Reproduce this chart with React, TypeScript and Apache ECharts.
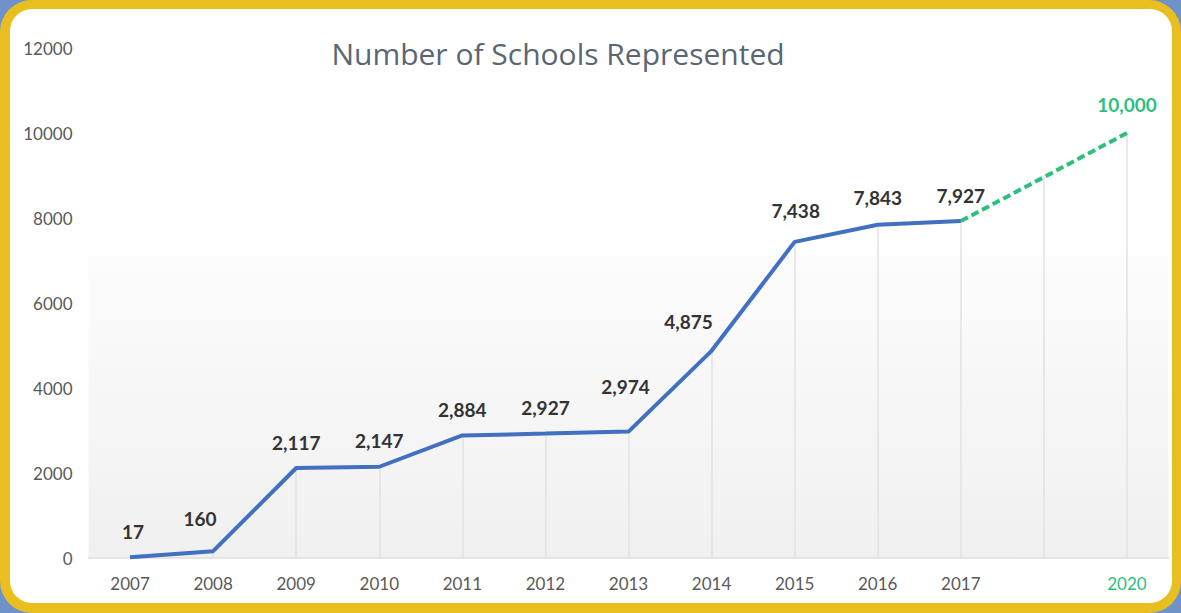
import React, { useEffect, useRef } from "react";
import * as echarts from "echarts";

const CATEGORIES = ["2007", "2008", "2009", "2010", "2011", "2012", "2013", "2014", "2015", "2016", "2017", "", "2020"];
const ACTUAL = [17, 160, 2117, 2147, 2884, 2927, 2974, 4875, 7438, 7843, 7927, null, null];
const PROJECTED = [null, null, null, null, null, null, null, null, null, null, 7927, 8960, 10000];
const Y_TICKS = [0, 2000, 4000, 6000, 8000, 10000, 12000];
const TITLE = "Number of Schools Represented";

const LABEL_OFFSETS: [number, number][] = [
  [3, 0], [-13, -7], [0, 0], [0, 0], [0, 0], [0, 0], [-3, -19], [-23, -3], [1, -5], [0, -1], [0, 0], [0, 0], [0, -3],
];

const BLUE = "#4170c0";
const GREEN = "#2dbf7c";
const GREY_TEXT = "#595959";
const FONT = "Lato, 'Open Sans', sans-serif";

const fmt = (v: number) => v.toLocaleString("en-US");

const dropLines = (vals: (number | null)[], skipIndex: number[] = []) =>
  vals
    .map((v, i) => (v == null || skipIndex.includes(i) ? null : [{ coord: [i, 0] }, { coord: [i, v] }]))
    .filter((d) => d != null);

export default function App() {
  const ref = useRef<HTMLDivElement>(null);

  useEffect(() => {
    if (!ref.current) return;
    const chart = echarts.init(ref.current, undefined, { renderer: "svg" });
    const option = {
      animation: false,
      title: {
        text: TITLE,
        left: 553,
        textAlign: "center",
        top: 33,
        textStyle: { fontFamily: "'Open Sans', sans-serif", fontWeight: 400, fontSize: 30, color: "#5a6673" },
      },
      grid: {
        left: 88.5,
        right: 12.5,
        top: 48,
        bottom: 55,
        show: true,
        borderWidth: 0,
        backgroundColor: new echarts.graphic.LinearGradient(0, 0, 0, 1, [
          { offset: 0, color: "rgba(255,255,255,0)" },
          { offset: 0.4, color: "rgba(255,255,255,0)" },
          { offset: 0.41, color: "#fcfcfc" },
          { offset: 1, color: "#f0f0f0" },
        ]),
      },
      xAxis: {
        type: "category",
        data: CATEGORIES,
        boundaryGap: true,
        axisLine: { show: true, lineStyle: { color: "#dedede", width: 1.5 } },
        axisTick: { show: false },
        splitLine: { show: false },
        axisLabel: {
          interval: 0,
          margin: 17,
          fontFamily: FONT,
          fontSize: 17,
          color: (value: string) => (value === "2020" ? GREEN : GREY_TEXT),
        },
      },
      yAxis: {
        type: "value",
        min: Y_TICKS[0],
        max: Y_TICKS[Y_TICKS.length - 1],
        interval: Y_TICKS[1] - Y_TICKS[0],
        axisLine: { show: false },
        axisTick: { show: false },
        splitLine: { show: false },
        axisLabel: {
          margin: 16,
          fontFamily: FONT,
          fontSize: 17,
          color: GREY_TEXT,
          formatter: (v: number) => String(v),
        },
      },
      series: [
        {
          type: "line",
          z: 3,
          data: ACTUAL.map((v, i) => ({ value: v, label: { offset: LABEL_OFFSETS[i] } })),
          showSymbol: true,
          symbol: "circle",
          symbolSize: 1,
          itemStyle: { color: "rgba(0,0,0,0)" },
          lineStyle: { color: BLUE, width: 4 },
          label: {
            show: true,
            position: "top",
            distance: 16,
            fontFamily: FONT,
            fontWeight: "bold",
            fontSize: 19,
            color: "#333333",
            formatter: (p: any) => fmt(p.value),
          },
          markLine: {
            z: 1,
            silent: true,
            symbol: ["none", "none"],
            label: { show: false },
            lineStyle: { color: "#e2e2e2", width: 1.5, type: "solid" },
            data: dropLines(ACTUAL),
          },
        },
        {
          type: "line",
          z: 2,
          data: PROJECTED.map((v, i) => ({
            value: v,
            label: { show: i === PROJECTED.length - 1, offset: LABEL_OFFSETS[i] },
          })),
          showSymbol: true,
          symbol: "circle",
          symbolSize: 1,
          itemStyle: { color: "rgba(0,0,0,0)" },
          lineStyle: { color: GREEN, width: 4, type: [8, 4] },
          label: {
            show: false,
            position: "top",
            distance: 16,
            fontFamily: FONT,
            fontWeight: "bold",
            fontSize: 19,
            color: GREEN,
            formatter: (p: any) => fmt(p.value),
          },
          markLine: {
            z: 1,
            silent: true,
            symbol: ["none", "none"],
            label: { show: false },
            lineStyle: { color: "#e2e2e2", width: 1.5, type: "solid" },
            data: dropLines(PROJECTED, [10]),
          },
        },
      ],
    };
    chart.setOption(option as any);
    return () => chart.dispose();
  }, []);

  return (
    <div style={{ position: "fixed", left: 0, top: 0, width: 1181, height: 613, background: "#6f93c8", overflow: "hidden" }}>
      <div style={{ position: "absolute", left: 0, top: 0, width: 1181, height: 613, background: "#e9bf20", borderRadius: 32 }} />
      <div style={{ position: "absolute", left: 10, top: 9, width: 1162, height: 594, background: "#ffffff", borderRadius: 22 }} />
      <div ref={ref} style={{ position: "absolute", left: 0, top: 0, width: 1181, height: 613 }} />
    </div>
  );
}
